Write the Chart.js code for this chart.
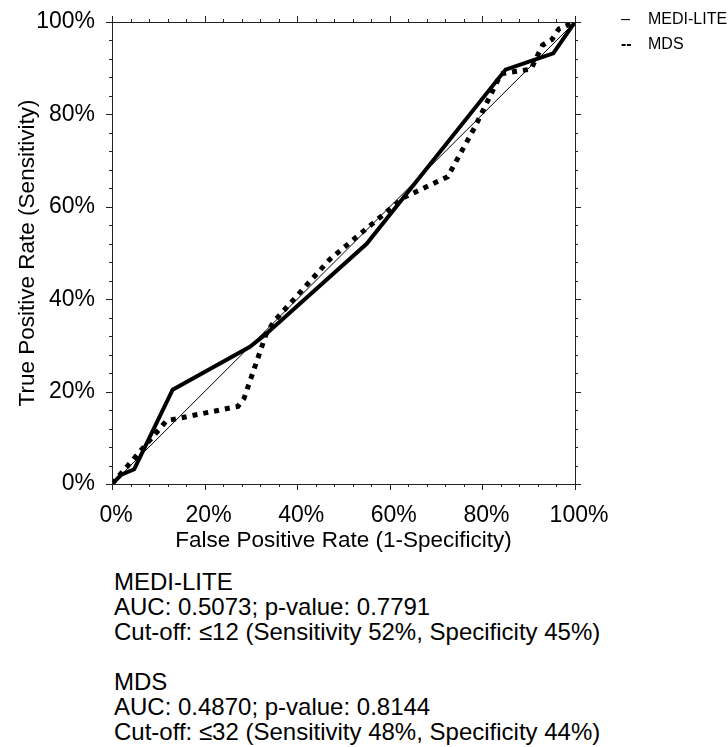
<!DOCTYPE html>
<html>
<head>
<meta charset="utf-8">
<script src="https://cdn.jsdelivr.net/npm/chart.js@4.4.1/dist/chart.umd.min.js"></script>
<style>
  body { margin: 0; background: #fff; width: 728px; height: 747px; position: relative; overflow: hidden;
         font-family: "Liberation Sans", Arial, sans-serif; color: #000; }
  #wrap { position: absolute; left: 0; top: 0; width: 728px; height: 560px; }
  .lg { position: absolute; left: 621px; font-size: 16px; line-height: 16px; white-space: nowrap; }
  .mk { display: inline-block; width: 27px; }
  .mk.b { font-weight: bold; }
  #notes { position: absolute; left: 114px; top: 569px; font-size: 24px; line-height: 25px; white-space: nowrap; }
</style>
</head>
<body>
<div id="wrap"><canvas id="roc" width="728" height="560"></canvas></div>
<div class="lg" style="top:11px"><span class="mk">–</span>MEDI-LITE</div>
<div class="lg" style="top:36px"><span class="mk b">--</span>MDS</div>
<div id="notes">
  MEDI-LITE<br>
  AUC: 0.5073; p-value: 0.7791<br>
  Cut-off: ≤12 (Sensitivity 52%, Specificity 45%)<br>
  <br>
  MDS<br>
  AUC: 0.4870; p-value: 0.8144<br>
  Cut-off: ≤32 (Sensitivity 48%, Specificity 44%)
</div>
<script>
// ROC curves, values in percent
const tickValues = [0, 20, 40, 60, 80, 100];
const minorTickValues = [4, 8, 12, 16, 24, 28, 32, 36, 44, 48, 52, 56, 64, 68, 72, 76, 84, 88, 92, 96];

const mediLiteFpr = [0, 2, 4.8, 13.1, 29.8, 33.4, 55, 85, 95.3, 100];
const mediLiteTpr = [0, 2, 3.2, 20.4, 29.7, 32.6, 52, 89.7, 93.2, 100];

const mdsFpr = [0, 11.8, 27.2, 28.5, 33.3, 35, 47, 63, 72.5, 78.5, 84, 90.5, 93, 95, 96.5, 100];
const mdsTpr = [0, 13.7, 16.8, 18.5, 32.5, 35.2, 48.6, 62, 66.5, 77.5, 88.8, 89.8, 95, 96.2, 98.5, 100];

const refFpr = [0, 100];
const refTpr = [0, 100];

const FONT = '"Liberation Sans", Arial, sans-serif';

function toPoints(xs, ys) { return xs.map((x, i) => ({ x, y: ys[i] })); }

// box around the plot with outward ticks on all four sides
const frame = {
  id: 'frame',
  afterDatasetsDraw(chart) {
    const { ctx, chartArea: a, scales: { x, y } } = chart;
    ctx.save();
    ctx.strokeStyle = '#222';
    ctx.lineWidth = 1;
    ctx.strokeRect(a.left + 0.5, a.top + 0.5, a.right - a.left, a.bottom - a.top);
    const mark = (vals, len) => {
      ctx.beginPath();
      vals.forEach(v => {
        const px = Math.round(x.getPixelForValue(v)) + 0.5;
        ctx.moveTo(px, a.bottom); ctx.lineTo(px, a.bottom + len);
        ctx.moveTo(px, a.top); ctx.lineTo(px, a.top - len);
        const py = Math.round(y.getPixelForValue(v)) + 0.5;
        ctx.moveTo(a.left, py); ctx.lineTo(a.left - len, py);
        ctx.moveTo(a.right, py); ctx.lineTo(a.right + len, py);
      });
      ctx.stroke();
    };
    mark(tickValues, 6);
    mark(minorTickValues, 3);
    ctx.restore();
  }
};

const pct = v => v + '%';

new Chart(document.getElementById('roc'), {
  type: 'scatter',
  data: {
    datasets: [
      { label: 'MDS', data: toPoints(mdsFpr, mdsTpr), showLine: true, pointRadius: 0,
        borderColor: '#000', borderWidth: 5, borderDash: [5, 6], borderCapStyle: 'butt', tension: 0 },
      { label: 'MEDI-LITE', data: toPoints(mediLiteFpr, mediLiteTpr), showLine: true, pointRadius: 0,
        borderColor: '#000', borderWidth: 4, borderJoinStyle: 'miter', tension: 0 },
      { label: 'Reference', data: toPoints(refFpr, refTpr), showLine: true, pointRadius: 0,
        borderColor: '#000', borderWidth: 1, tension: 0 },
    ],
  },
  options: {
    responsive: false,
    animation: false,
    devicePixelRatio: 1,
    layout: { padding: { top: 22, right: 153, bottom: 0, left: 0 } },
    plugins: { legend: { display: false }, tooltip: { enabled: false } },
    scales: {
      x: {
        type: 'linear', min: 0, max: 100,
        afterBuildTicks: s => { s.ticks = tickValues.map(v => ({ value: v })); },
        afterFit: s => { s.height = 76; },
        grid: { display: false }, border: { display: false },
        ticks: { callback: pct, color: '#000', font: { family: FONT, size: 23 }, padding: 10,
                 labelOffset: 4, maxRotation: 0, autoSkip: false },
        title: { display: true, text: 'False Positive Rate (1-Specificity)', color: '#000',
                 font: { family: FONT, size: 22.5 }, padding: { top: 0, bottom: 6 } },
      },
      y: {
        type: 'linear', min: 0, max: 100,
        afterBuildTicks: s => { s.ticks = tickValues.map(v => ({ value: v })); },
        afterFit: s => { s.width = 112; s.paddingTop = 0; s.paddingBottom = 0; },
        grid: { display: false }, border: { display: false },
        ticks: { callback: pct, color: '#000', font: { family: FONT, size: 23 }, padding: 9, autoSkip: false },
        title: { display: true, text: 'True Positive Rate (Sensitivity)', color: '#000',
                 font: { family: FONT, size: 22.5 }, padding: { top: 14, bottom: 0 } },
      },
    },
  },
  plugins: [frame],
});
</script>
</body>
</html>
